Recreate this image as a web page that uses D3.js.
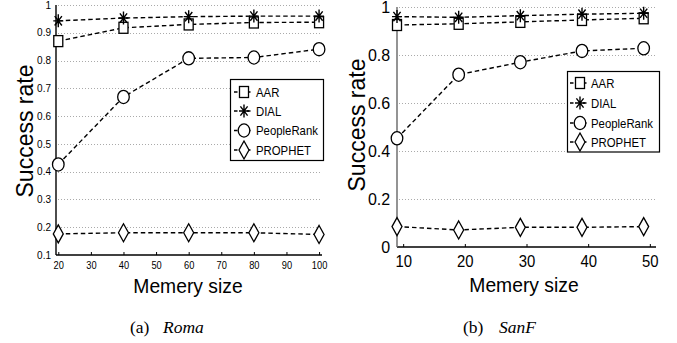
<!DOCTYPE html>
<html>
<head>
<meta charset="utf-8">
<script src="https://cdn.jsdelivr.net/npm/d3@7"></script>
<style>
  body { margin: 0; background: #fff; }
  svg text { font-family: "Liberation Sans", Arial, sans-serif; fill: #000; }
  .caption { font-family: "Liberation Serif", "Times New Roman", serif; }
  .grid line { stroke: #aaa; stroke-width: 1; stroke-dasharray: 1,2; }
  .series { fill: none; stroke: #000; stroke-width: 1.4; stroke-dasharray: 4.5,3; }
  .marker { fill: #fff; stroke: #000; stroke-width: 1.3; }
</style>
</head>
<body>
<svg id="chart" width="677" height="343"></svg>
<script>
//

const seriesNames = ['AAR', 'DIAL', 'PeopleRank', 'PROPHET']
const seriesShapes = ['square', 'asterisk', 'circle', 'diamond']

// (a) Roma
const romaMemory = [20, 40, 60, 80, 100]
const romaAAR = [0.870, 0.918, 0.930, 0.937, 0.938]
const romaDIAL = [0.943, 0.953, 0.958, 0.960, 0.960]
const romaPeopleRank = [0.426, 0.669, 0.808, 0.811, 0.841]
const romaPROPHET = [0.176, 0.180, 0.180, 0.180, 0.174]
const romaXTicks = [20, 30, 40, 50, 60, 70, 80, 90, 100]
const romaYTicks = [0.1, 0.2, 0.3, 0.4, 0.5, 0.6, 0.7, 0.8, 0.9, 1]

// (b) SanF
const sanfMemory = [9, 19, 29, 39, 49]
const sanfAAR = [0.925, 0.930, 0.938, 0.946, 0.953]
const sanfDIAL = [0.960, 0.957, 0.964, 0.970, 0.974]
const sanfPeopleRank = [0.453, 0.718, 0.770, 0.817, 0.828]
const sanfPROPHET = [0.085, 0.071, 0.082, 0.082, 0.085]
const sanfXTicks = [10, 20, 30, 40, 50]
const sanfYTicks = [0, 0.2, 0.4, 0.6, 0.8, 1]

//

const svg = d3.select('#chart')

const panels = [
  {
    memory: romaMemory,
    values: [romaAAR, romaDIAL, romaPeopleRank, romaPROPHET],
    xTicks: romaXTicks,
    yTicks: romaYTicks,
    xDomain: [19.3, 100.9],
    yDomain: [0.1, 1],
    xRange: [56, 322],
    yRange: [255, 5],
    tickFont: 10,
    yAxisColor: '#000',
    yTitle: [25, 131],
    xTitle: [188, 293],
    legend: {x: 230, y: 79, w: 93, h: 81, rows: [92, 111, 130.5, 150], mx: 244, tx: 256},
    caption: {tagX: 130, labelX: 163, label: 'Roma', tag: '(a)'}
  },
  {
    memory: sanfMemory,
    values: [sanfAAR, sanfDIAL, sanfPeopleRank, sanfPROPHET],
    xTicks: sanfXTicks,
    yTicks: sanfYTicks,
    xDomain: [9, 51],
    yDomain: [0, 1],
    xRange: [397, 656],
    yRange: [247, 7],
    tickFont: 16,
    yAxisColor: '#666',
    yTitle: [357, 125],
    xTitle: [524, 292],
    legend: {x: 567, y: 71, w: 92, h: 80.5, rows: [83, 103, 123, 142], mx: 580, tx: 591},
    caption: {tagX: 463, labelX: 499, label: 'SanF', tag: '(b)'}
  }
]

const drawMarker = (g, shape, cx, cy) => {
  if (shape === 'square') {
    g.append('rect').attr('class', 'marker')
      .attr('x', cx - 4.5).attr('y', cy - 5.5).attr('width', 9).attr('height', 11)
  } else if (shape === 'circle') {
    g.append('ellipse').attr('class', 'marker')
      .attr('cx', cx).attr('cy', cy).attr('rx', 5.8).attr('ry', 6.6)
  } else if (shape === 'diamond') {
    g.append('path').attr('class', 'marker')
      .attr('d', `M${cx},${cy - 9}L${cx + 5},${cy}L${cx},${cy + 9}L${cx - 5},${cy}Z`)
  } else {
    const rx = 5, ry = 6.5
    g.append('path').attr('class', 'marker').style('fill', 'none').style('stroke-width', 1.4)
      .attr('d', `M${cx - rx},${cy}H${cx + rx}M${cx},${cy - ry}V${cy + ry}` +
        `M${cx - rx * 0.72},${cy - ry * 0.72}L${cx + rx * 0.72},${cy + ry * 0.72}` +
        `M${cx - rx * 0.72},${cy + ry * 0.72}L${cx + rx * 0.72},${cy - ry * 0.72}`)
  }
}

// text squeezed horizontally, as in the (resampled) reference
const squeezedText = (g, x, y, size, sx, anchor, str) =>
  g.append('g').attr('transform', `translate(${x},${y}) scale(${sx},1)`)
    .append('text')
    .attr('text-anchor', anchor)
    .style('font-size', size + 'px')
    .text(str)

panels.forEach((p) => {
  const x = d3.scaleLinear().domain(p.xDomain).range(p.xRange)
  const y = d3.scaleLinear().domain(p.yDomain).range(p.yRange)
  const g = svg.append('g')

  // grid
  g.append('g').attr('class', 'grid')
    .selectAll('line')
    .data(p.yTicks.filter((t) => t !== p.yDomain[0]))
    .join('line')
    .attr('x1', p.xRange[0] + 2).attr('x2', p.xRange[1])
    .attr('y1', (d) => Math.round(y(d)) + 0.5).attr('y2', (d) => Math.round(y(d)) + 0.5)

  // x axis, ticks pointing inward
  const xAxis = g.append('g')
    .attr('transform', `translate(0,${p.yRange[0]})`)
    .call(d3.axisTop(x).tickValues(p.xTicks).tickSize(3).tickFormat(d3.format('d')))
  xAxis.select('.domain').attr('stroke', '#000').attr('stroke-width', 1.3)
    .attr('d', `M${p.xRange[0]},0H${p.xRange[1]}`)
  xAxis.selectAll('.tick line').attr('stroke', '#000')
  xAxis.selectAll('.tick text')
    .attr('y', p.tickFont * 0.35 + 3)
    .attr('dy', '0.71em')
    .attr('transform', 'scale(0.93,1)')
    .style('font-size', p.tickFont + 'px')
    .attr('font-family', null)

  // y axis
  const yAxis = g.append('g')
    .attr('transform', `translate(${p.xRange[0]},0)`)
    .call(d3.axisLeft(y).tickValues(p.yTicks).tickSize(0).tickPadding(p.tickFont * 0.3 + 2)
      .tickFormat((d) => d3.format('~g')(d)))
  yAxis.select('.domain').attr('stroke', p.yAxisColor).attr('stroke-width', 1.4)
    .attr('d', `M0,${p.yRange[0]}V${p.yRange[1]}`)
  yAxis.selectAll('.tick text')
    .style('font-size', p.tickFont + 'px')
    .attr('font-family', null)

  // series
  const line = d3.line().x((d) => x(d[0])).y((d) => y(d[1]))
  p.values.forEach((vals) => {
    const pts = p.memory.map((m, i) => [m, vals[i]])
    g.append('path').attr('class', 'series').attr('d', line(pts))
  })
  p.values.forEach((vals, si) => {
    const mg = g.append('g')
    p.memory.forEach((m, i) => drawMarker(mg, seriesShapes[si], x(m), y(vals[i])))
  })

  // legend
  const L = p.legend
  const lg = g.append('g')
  lg.append('rect')
    .attr('x', L.x + 0.5).attr('y', L.y + 0.5).attr('width', L.w).attr('height', L.h)
    .attr('fill', '#fff').attr('stroke', '#000').attr('stroke-width', 1.2)
  seriesNames.forEach((name, i) => {
    const ry = L.rows[i]
    lg.append('path').attr('class', 'series').style('stroke-dasharray', '3.5,9.5')
      .attr('d', `M${L.mx - 10},${ry}H${L.mx + 10}`)
    drawMarker(lg, seriesShapes[i], L.mx, ry)
    squeezedText(lg, L.tx, ry + 4.5, 12.5, 0.91, 'start', name)
  })

  // axis titles
  g.append('text')
    .attr('transform', `translate(${p.yTitle[0]},${p.yTitle[1]}) rotate(-90)`)
    .attr('text-anchor', 'middle').attr('dy', '0.36em')
    .style('font-size', '23px')
    .text('Success rate')
  squeezedText(g, p.xTitle[0], p.xTitle[1], 21, 0.92, 'middle', 'Memery size')

  // caption
  const cap = g.append('text').attr('class', 'caption')
    .attr('y', 333)
    .style('font-size', '17.5px')
  cap.append('tspan').attr('x', p.caption.tagX).text(p.caption.tag)
  cap.append('tspan').attr('x', p.caption.labelX).style('font-style', 'italic').text(p.caption.label)
})
</script>
</body>
</html>
